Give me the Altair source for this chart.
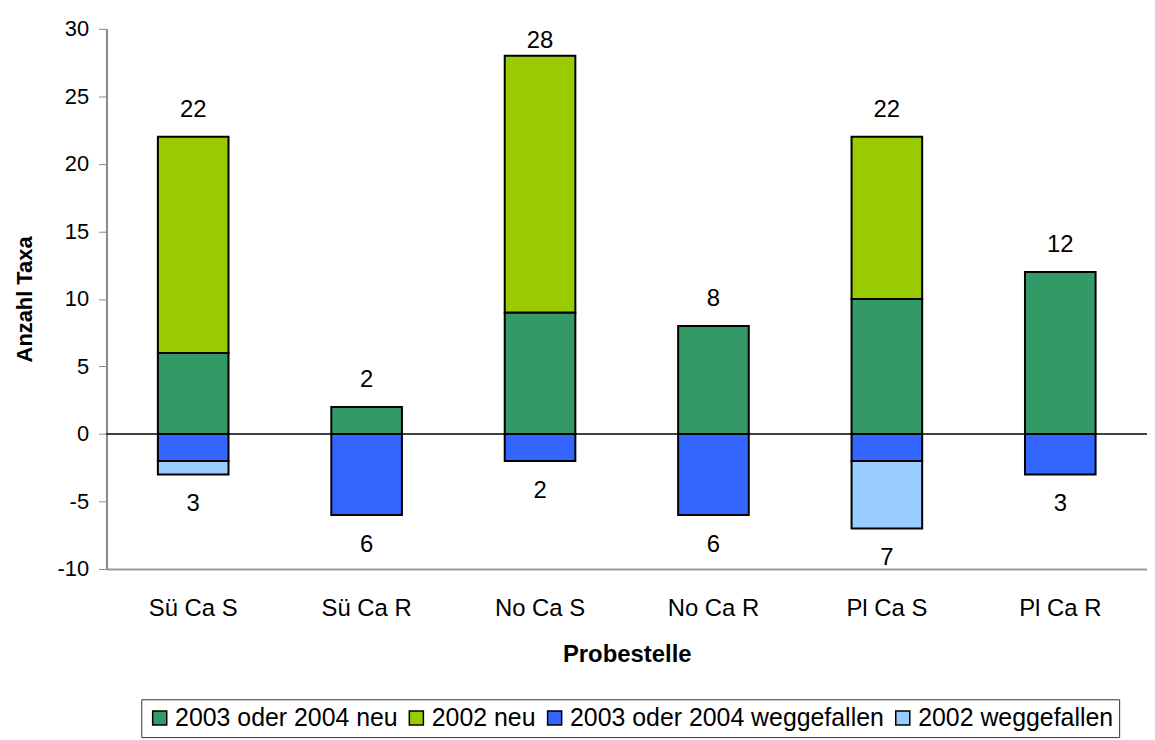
import altair as alt
import pandas as pd

categories = ["Sü Ca S", "Sü Ca R", "No Ca S", "No Ca R", "Pl Ca S", "Pl Ca R"]
series = ["2003 oder 2004 neu", "2002 neu", "2003 oder 2004 weggefallen", "2002 weggefallen"]
colors = ["#339966", "#99CC00", "#3366FF", "#99CCFF"]

neu_0304 = [6, 2, 9, 8, 10, 12]
neu_2002 = [16, 0, 19, 0, 12, 0]
weg_0304 = [-2, -6, -2, -6, -2, -3]
weg_2002 = [-1, 0, 0, 0, -5, 0]

rows = []
for i, c in enumerate(categories):
    for k, (s, vals) in enumerate(zip(series, [neu_0304, neu_2002, weg_0304, weg_2002])):
        if vals[i] != 0:
            rows.append({"cat": c, "series": s, "value": vals[i], "order": k})
df = pd.DataFrame(rows)

tot = []
for i, c in enumerate(categories):
    pos = neu_0304[i] + neu_2002[i]
    neg = weg_0304[i] + weg_2002[i]
    tot.append({"cat": c, "total": pos, "label": str(pos), "kind": "pos"})
    tot.append({"cat": c, "total": neg, "label": str(-neg), "kind": "neg"})
tdf = pd.DataFrame(tot)

FONT = "Liberation Sans"

xaxis = alt.Axis(labelAngle=0, titlePadding=22, labelPadding=28, ticks=False,
                 domainColor="#999999", domainWidth=2, grid=False,
                 labelFontSize=24, titleFontSize=24)
yaxis = alt.Axis(values=list(range(-10, 31, 5)), labelExpr="'' + datum.value",
                 titlePadding=21, tickSize=8, tickColor="#888888",
                 domainColor="#888888", domainWidth=2, labelPadding=10, grid=False,
                 labelFontSize=22, titleFontSize=22)

yscale = alt.Scale(domain=[-10, 30], nice=False)
xscale = alt.Scale(paddingInner=0, paddingOuter=0)

bars = alt.Chart(df).mark_bar(size=71, stroke="black", strokeWidth=2).encode(
    x=alt.X("cat:N", sort=categories, title="Probestelle", scale=xscale, axis=xaxis),
    y=alt.Y("value:Q", stack="zero", scale=yscale, title="Anzahl Taxa", axis=yaxis),
    color=alt.Color("series:N", sort=series,
                    scale=alt.Scale(domain=series, range=colors),
                    legend=alt.Legend(orient="none", legendX=35, legendY=674, direction="horizontal",
                                      title=None, symbolType="square", symbolSize=200,
                                      symbolStrokeColor="black", symbolStrokeWidth=1.5,
                                      symbolOpacity=1, columnPadding=6, labelOffset=3,
                                      strokeColor="#333333", fillColor="white",
                                      padding=6, columns=4, labelLimit=0)),
    order=alt.Order("order:Q"),
)

zero = alt.Chart(pd.DataFrame({"y": [0]})).mark_rule(color="black", strokeWidth=1.5).encode(
    y=alt.Y("y:Q", scale=yscale, title="Anzahl Taxa", axis=yaxis))

labels = alt.Chart(tdf).transform_calculate(
    lp="datum.kind == 'pos' ? min(datum.total + 2, 29.1) : datum.total - 2.2"
).mark_text(fontSize=24, font=FONT, color="black", baseline="middle").encode(
    x=alt.X("cat:N", sort=categories, title="Probestelle", scale=xscale, axis=xaxis),
    y=alt.Y("lp:Q", scale=yscale, title="Anzahl Taxa", axis=yaxis),
    text="label:N",
)

chart = alt.layer(bars, zero, labels).properties(
    width=1046, height=543,
    autosize=alt.AutoSizeParams(type="none"),
    padding={"left": 99, "top": 19, "right": 0, "bottom": 170},
).configure_view(stroke=None).configure_axis(
    labelFont=FONT, labelColor="black",
    titleFont=FONT, titleFontWeight="bold", titleColor="black",
).configure_legend(
    labelFontSize=25, labelFont=FONT, labelColor="black",
)

chart.save("out.html", embed_options={"renderer": "svg", "actions": False})
